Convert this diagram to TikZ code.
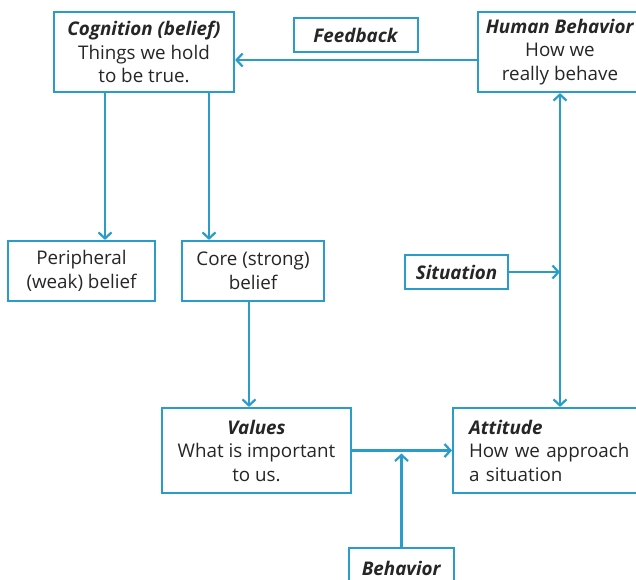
\documentclass[tikz,border=0pt]{standalone}
\usepackage{fontspec}
\setmainfont{Open Sans}
\usetikzlibrary{arrows.meta}
\definecolor{ln}{HTML}{2A9CC9}
\definecolor{tx}{HTML}{262626}
\tikzset{
  box/.style={draw=ln, line width=2.2pt, rectangle, inner sep=0pt, align=center, text=tx,
    font=\fontsize{18.8}{23.5}\selectfont},
  arr/.style={draw=ln, line width=2.2pt, -{Straight Barb[length=6pt,width=13pt,line width=2.2pt]}},
  dbl/.style={draw=ln, line width=2.2pt, {Straight Barb[length=6pt,width=13pt,line width=2.2pt]}-{Straight Barb[length=6pt,width=13pt,line width=2.2pt]}}
}
\newcommand{\tl}[1]{\textbf{\textit{#1}}}
\begin{document}
\begin{tikzpicture}[x=1pt,y=-1pt]
\useasboundingbox (0,0) rectangle (636,579);
\fill[white] (0,0) rectangle (636,579);
\node[box, minimum width=180pt, minimum height=80pt] (cog) at (144,52) {\tl{Cognition (belief)}\\Things we hold\\to be true.};
\node[box, minimum width=124pt, minimum height=34pt] (fb) at (356,35) {\tl{Feedback}};
\node[box, minimum width=164pt, minimum height=80pt] (hb) at (560,52) {\tl{Human Behavior}\\How we\\really behave};
\node[box, minimum width=147pt, minimum height=60pt] (per) at (81.5,271) {Peripheral\\(weak) belief};
\node[box, minimum width=142pt, minimum height=60pt] (core) at (253,271) {Core (strong)\\belief};
\node[box, minimum width=103pt, minimum height=34pt] (sit) at (456.5,272) {\tl{Situation}};
\node[box, minimum width=189pt, minimum height=85pt] (val) at (256.5,450.5) {\tl{Values}\\What is important\\to us.};
\node[box, align=left, inner xsep=16pt, text width=172pt, minimum height=85pt, anchor=west] (att) at (452,450.5) {\tl{Attitude}\\How we approach\\a situation};
\node[box, minimum width=105pt, minimum height=40pt, anchor=north] (beh) at (401.5,547) {\tl{Behavior}};
\draw[arr] ([yshift=-8pt]hb.west) -- ([yshift=-8pt]cog.east);
\draw[arr] (cog.south -| 105,0) -- (per.north -| 105,0);
\draw[arr] (cog.south -| 209,0) -- (core.north -| 209,0);
\draw[arr] (core.south -| 249,0) -- (val.north -| 249,0);
\draw[arr] (val.east) -- (att.west);
\draw[arr] (beh.north) -- ([yshift=-3pt]beh.north |- val.east);
\draw[dbl] (hb.south) -- (att.north -| hb.south);
\draw[arr] (sit.east) -- (sit.east -| hb.south);
\end{tikzpicture}
\end{document}
